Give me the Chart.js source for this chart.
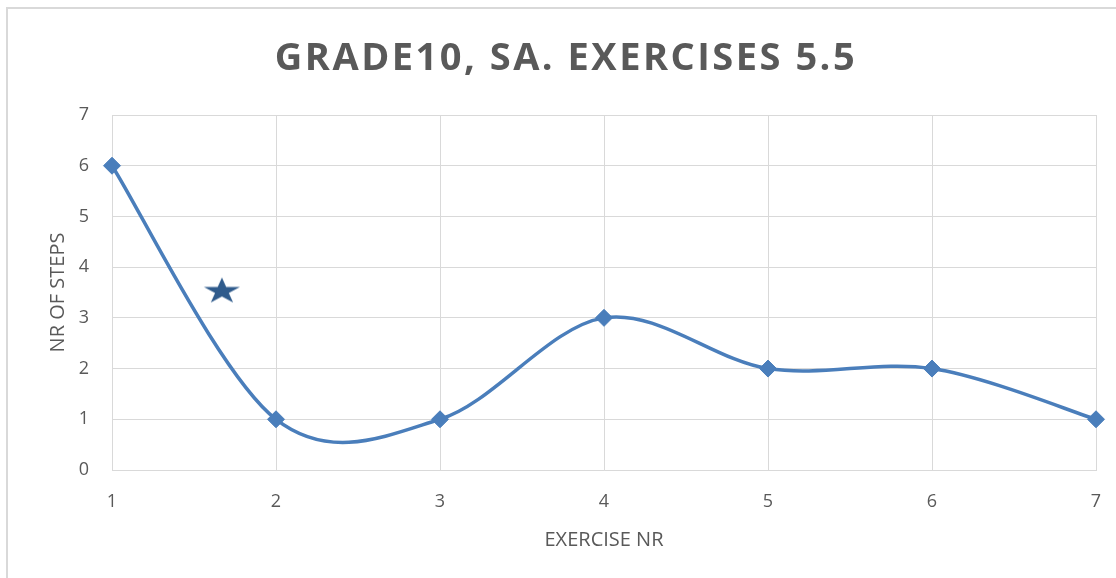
<!DOCTYPE html>
<html>
<head>
<meta charset="utf-8">
<script src="https://cdn.jsdelivr.net/npm/chart.js@4/dist/chart.umd.min.js"></script>
<style>
  html, body { margin: 0; padding: 0; background: #fff; overflow: hidden; }
  #frame {
    position: absolute; left: 6px; top: 7px; width: 1200px; height: 700px;
    border: 2px solid #d9d9d9; pointer-events: none;
  }
  #wrap { position: absolute; left: 0; top: 0; width: 1116px; height: 578px; }
</style>
</head>
<body>
<div id="wrap"><canvas id="chart" width="1116" height="578"></canvas></div>
<div id="frame"></div>
<script>
// ============ DATA ============
const exercises = [1, 2, 3, 4, 5, 6, 7];
const steps = [6, 1, 1, 3, 2, 2, 1];
const starPoint = [{ x: 1.67, y: 3.55 }];

const TEXT_COLOR = "#595959";
const GRID_COLOR = "#d9d9d9";
const LINE_COLOR = "#4a7ebb";
const STAR_COLOR = "#2f5b8c";
const FONT = "'Open Sans', 'Liberation Sans', sans-serif";

// ============ STAR MARKER ============
// a slightly flattened five-point star, filled
function makeStar(w, h, color) {
  const c = document.createElement("canvas");
  c.width = w; c.height = h;
  const g = c.getContext("2d");
  const sx = (w - 2) / 1.902, sy = (h - 2) / 1.809;
  const cx = w / 2, cy = h / 2 + 0.0955 * sy;
  g.beginPath();
  for (let i = 0; i < 10; i++) {
    const r = i % 2 === 0 ? 1 : 0.382;
    const a = -Math.PI / 2 + i * Math.PI / 5;
    const px = cx + sx * r * Math.cos(a), py = cy + sy * r * Math.sin(a);
    if (i === 0) g.moveTo(px, py); else g.lineTo(px, py);
  }
  g.closePath();
  g.fillStyle = color;
  g.fill();
  return c;
}

// ============ PLUGINS ============
// spaced-out title letters, like the original
const titleSpacing = {
  id: "titleSpacing",
  afterInit(chart) {
    const tb = chart.titleBlock;
    if (!tb) return;
    const orig = tb.draw.bind(tb);
    tb.draw = function () {
      const ctx = chart.ctx;
      ctx.save();
      ctx.letterSpacing = "2.5px";
      orig();
      ctx.restore();
    };
  }
};

// office-style smoothing: catmull-rom control points (1/6 of neighbour span)
const officeSmooth = {
  id: "officeSmooth",
  beforeDatasetDraw(chart, args) {
    if (args.index !== 0) return;
    const meta = args.meta;
    meta.dataset.updateControlPoints(chart.chartArea, "x");
    const pts = meta.data;
    const n = pts.length;
    for (let i = 0; i < n; i++) {
      const prev = pts[Math.max(i - 1, 0)];
      const next = pts[Math.min(i + 1, n - 1)];
      const dx = (next.x - prev.x) / 6, dy = (next.y - prev.y) / 6;
      pts[i].cp1x = pts[i].x - dx; pts[i].cp1y = pts[i].y - dy;
      pts[i].cp2x = pts[i].x + dx; pts[i].cp2y = pts[i].y + dy;
    }
  }
};

const starImg = makeStar(38, 27, STAR_COLOR);

new Chart(document.getElementById("chart"), {
  type: "line",
  plugins: [titleSpacing, officeSmooth],
  data: {
    datasets: [
      {
        label: "Steps",
        data: exercises.map((x, i) => ({ x, y: steps[i] })),
        borderColor: LINE_COLOR,
        backgroundColor: LINE_COLOR,
        borderWidth: 3.5,
        tension: 0.4,
        pointStyle: "rectRot",
        pointRadius: 8.5,
        pointBorderWidth: 1,
        clip: false
      },
      {
        label: "Star",
        data: starPoint,
        showLine: false,
        pointStyle: starImg,
        clip: false
      }
    ]
  },
  options: {
    responsive: false,
    animation: false,
    events: [],
    layout: { padding: { left: 36, right: 20, top: 0, bottom: 0 } },
    plugins: {
      legend: { display: false },
      tooltip: { enabled: false },
      title: {
        display: true,
        text: "GRADE10, SA. EXERCISES 5.5",
        color: TEXT_COLOR,
        font: { family: FONT, size: 38, weight: "bold" },
        padding: { top: 36, bottom: 33.4 }
      }
    },
    scales: {
      x: {
        type: "linear",
        min: 1, max: 7,
        afterFit: s => { s.height = 108; s.paddingLeft = 0; s.paddingRight = 0; },
        ticks: { stepSize: 1, color: TEXT_COLOR, padding: 21, font: { family: FONT, size: 18 } },
        grid: { color: GRID_COLOR, drawTicks: false },
        border: { color: GRID_COLOR },
        title: {
          display: true, text: "EXERCISE NR", color: TEXT_COLOR,
          font: { family: FONT, size: 20 },
          padding: { bottom: 26 }
        }
      },
      y: {
        min: 0, max: 7,
        afterFit: s => { s.width = 76; },
        ticks: { stepSize: 1, color: TEXT_COLOR, padding: 23, font: { family: FONT, size: 18 } },
        grid: { color: GRID_COLOR, drawTicks: false },
        border: { color: GRID_COLOR },
        title: {
          display: true, text: "NR OF STEPS", color: TEXT_COLOR,
          font: { family: FONT, size: 20 },
          padding: { top: 10 }
        }
      }
    }
  }
});
</script>
</body>
</html>
